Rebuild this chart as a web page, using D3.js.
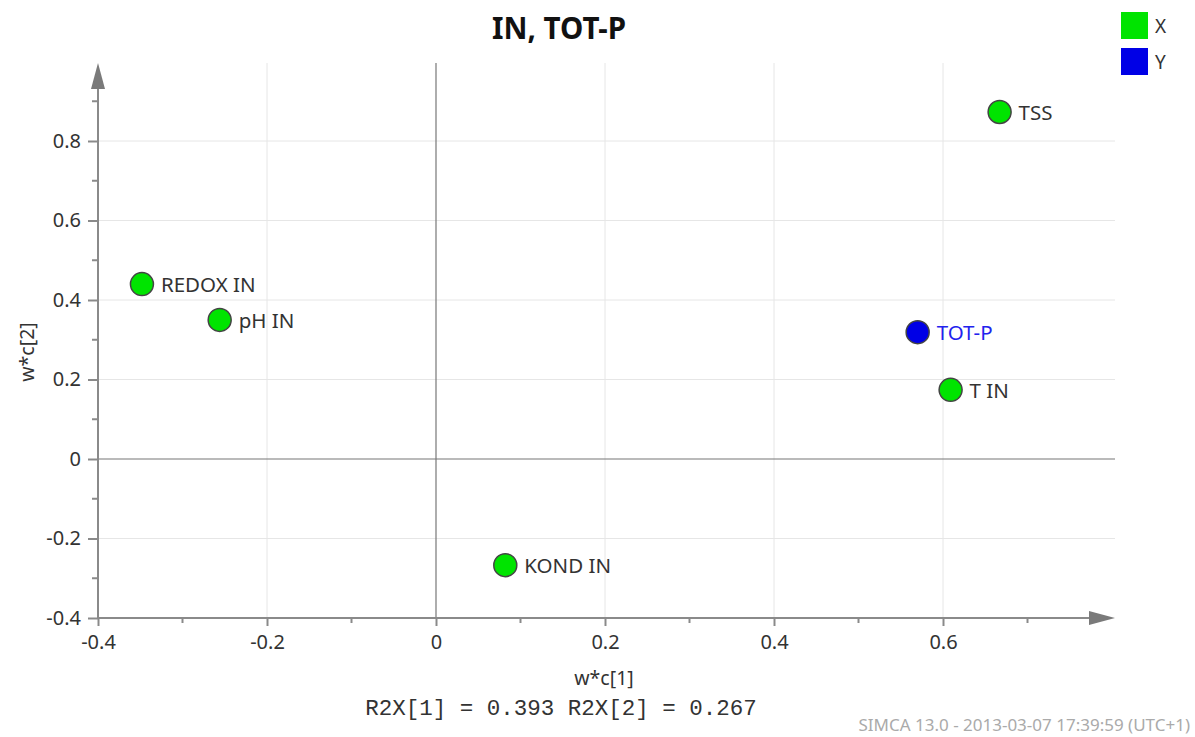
<!DOCTYPE html>
<html><head><meta charset="utf-8">
<script src="https://cdn.jsdelivr.net/npm/d3@7"></script>
<style>body{margin:0;background:#fff;} text{font-family:"Segoe UI","Noto Sans","DejaVu Sans",sans-serif;}</style>
</head><body>
<svg id="c" width="1195" height="737"></svg>
<script>
const names = ["TSS","REDOX IN","pH IN","TOT-P","T IN","KOND IN"];
const xVals = [0.667,-0.348,-0.256,0.570,0.609,0.082];
const yVals = [0.873,0.440,0.350,0.319,0.174,-0.267];
const groups = ["X","X","X","Y","X","X"];
const xTicks = [-0.4,-0.2,0,0.2,0.4,0.6];
const yTicks = [-0.4,-0.2,0,0.2,0.4,0.6,0.8];
const legendItems = ["X","Y"];

const colors = {X:"#00e400", Y:"#0000e6"};
const FONT = '"Segoe UI","Noto Sans","DejaVu Sans",sans-serif';
const svg = d3.select("#c");
const x = d3.scaleLinear().domain([-0.4,0.6]).range([98,943]);
const y = d3.scaleLinear().domain([-0.4,0.8]).range([618,141]);
const xEnd = 1115, yTop = 63;
const fmt = d => d===0 ? "0" : d.toFixed(1);

// grid
svg.append("g").selectAll("line").data(xTicks.filter(d=>d!==0&&d!==-0.4)).join("line")
  .attr("x1",d=>x(d)).attr("x2",d=>x(d)).attr("y1",yTop).attr("y2",618)
  .attr("stroke","#e6e6e6").attr("stroke-width",1);
svg.append("g").selectAll("line").data(yTicks.filter(d=>d!==0&&d!==-0.4)).join("line")
  .attr("y1",d=>y(d)).attr("y2",d=>y(d)).attr("x1",98).attr("x2",xEnd)
  .attr("stroke","#e6e6e6").attr("stroke-width",1);
// zero lines
svg.append("line").attr("x1",x(0)).attr("x2",x(0)).attr("y1",yTop).attr("y2",618).attr("stroke","#777").attr("stroke-width",1.2);
svg.append("line").attr("y1",y(0)).attr("y2",y(0)).attr("x1",98).attr("x2",xEnd).attr("stroke","#777").attr("stroke-width",1.2);

// axes
const xAxis = d3.axisBottom(x).tickValues(xTicks).tickSize(8).tickPadding(9).tickFormat(fmt);
const gx = svg.append("g").attr("transform","translate(0,618)").call(xAxis);
const yAxis = d3.axisLeft(y).tickValues(yTicks).tickSize(10).tickPadding(7).tickFormat(fmt);
const gy = svg.append("g").attr("transform","translate(98,0)").call(yAxis);
[gx,gy].forEach(g=>{
  g.select(".domain").remove();
  g.selectAll(".tick line").attr("stroke","#8a8a8a").attr("stroke-width",2);
  g.selectAll(".tick text").attr("fill","#333").style("font-size","20px").style("font-family",FONT);
});
// minor ticks
const minorX = d3.range(-0.3,0.75,0.2);
svg.append("g").selectAll("line").data(minorX).join("line")
  .attr("x1",d=>x(d)).attr("x2",d=>x(d)).attr("y1",618).attr("y2",623).attr("stroke","#8a8a8a").attr("stroke-width",2);
const minorY = d3.range(-0.3,0.95,0.2);
svg.append("g").selectAll("line").data(minorY).join("line")
  .attr("y1",d=>y(d)).attr("y2",d=>y(d)).attr("x1",92).attr("x2",98).attr("stroke","#8a8a8a").attr("stroke-width",2);
// axis lines with arrows
svg.append("line").attr("x1",98).attr("x2",1095).attr("y1",618).attr("y2",618).attr("stroke","#8a8a8a").attr("stroke-width",2);
svg.append("line").attr("x1",98).attr("x2",98).attr("y1",618).attr("y2",85).attr("stroke","#8a8a8a").attr("stroke-width",2);
svg.append("path").attr("d",`M${1089},${611} L${1115},${618} L${1089},${625} Z`).attr("fill","#7a7a7a");
svg.append("path").attr("d",`M${91},${89} L${98},${63} L${105},${89} Z`).attr("fill","#7a7a7a");

// points
const data = names.map((n,i)=>({n, x:xVals[i], y:yVals[i], g:groups[i]}));
svg.append("g").selectAll("circle").data(data).join("circle")
  .attr("cx",d=>x(d.x)).attr("cy",d=>y(d.y)).attr("r",11.5)
  .attr("fill",d=>colors[d.g]).attr("stroke","#444").attr("stroke-width",1.5);
svg.append("g").selectAll("text").data(data).join("text")
  .attr("x",d=>x(d.x)+19).attr("y",d=>y(d.y)+8)
  .attr("fill",d=>d.g==="Y"?"#2222ee":"#333").style("font-size","20.5px").text(d=>d.n);

// titles
svg.append("text").attr("x",559).attr("y",39).attr("text-anchor","middle").style("font-size","29.5px").style("font-weight","bold").attr("fill","#111").text("IN, TOT-P");
svg.append("text").attr("x",604).attr("y",685).attr("text-anchor","middle").style("font-size","19.5px").attr("fill","#333").text("w*c[1]");
svg.append("text").attr("transform","translate(34,352) rotate(-90)").attr("text-anchor","middle").style("font-size","19.5px").attr("fill","#333").text("w*c[2]");
svg.append("text").attr("x",561).attr("y",715).attr("text-anchor","middle").style("font-size","22.5px").style("font-family",'"Liberation Mono","DejaVu Sans Mono",monospace').attr("fill","#333").text("R2X[1] = 0.393 R2X[2] = 0.267");
svg.append("text").attr("x",1190).attr("y",731).attr("text-anchor","end").style("font-size","17px").attr("fill","#aaa").text("SIMCA 13.0 - 2013-03-07 17:39:59 (UTC+1)");

// legend
const lg = svg.append("g").selectAll("g").data(legendItems).join("g").attr("transform",(d,i)=>`translate(1121,${12+i*36})`);
lg.append("rect").attr("width",27).attr("height",27).attr("fill",d=>colors[d]);
lg.append("text").attr("x",34).attr("y",21).style("font-size","19px").attr("fill","#333").text(d=>d);
</script>
</body></html>
